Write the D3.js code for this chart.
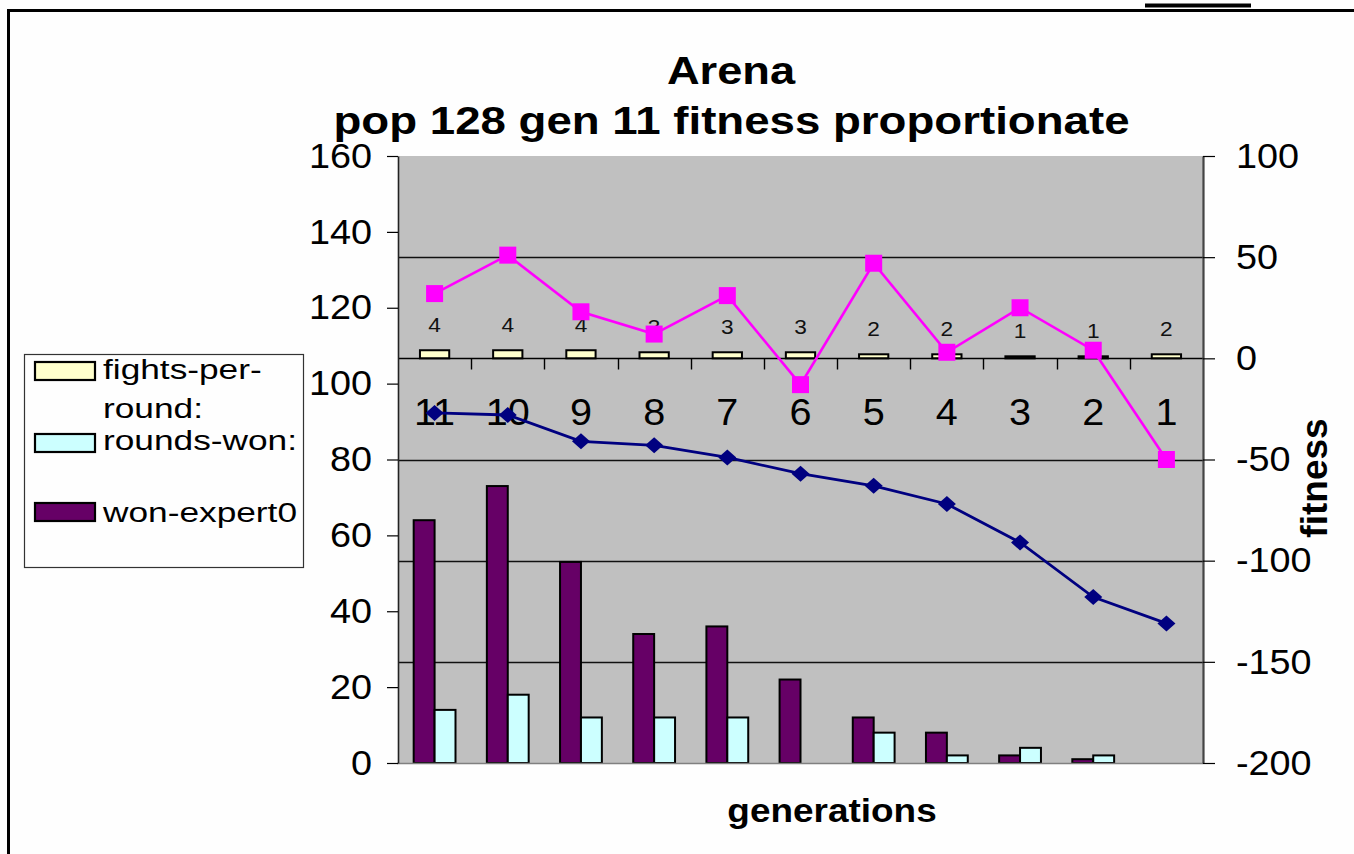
<!DOCTYPE html>
<html>
<head>
<meta charset="utf-8">
<script src="https://cdn.jsdelivr.net/npm/d3@7"></script>
<style>
  html, body { margin: 0; padding: 0; background: #fefefe; }
  svg { display: block; font-family: "Liberation Sans", Arial, sans-serif; }
</style>
</head>
<body>
<svg id="chart" width="1354" height="854"></svg>
<script>
// Generations, newest first
const categories = ["11", "10", "9", "8", "7", "6", "5", "4", "3", "2", "1"];

// Bar series on the left axis
const wonExpert0 = [64, 73, 53, 34, 36, 22, 12, 8, 2, 1, 0];
const roundsWon  = [14, 18, 12, 12, 12, 0, 8, 2, 4, 2, 0];

// Bar series on the fitness axis (with value labels)
const fightsPerRound = [4, 4, 4, 3, 3, 3, 2, 2, 1, 1, 2];

// Fitness lines
const fitnessMagenta = [32, 51, 23, 12, 31, -13, 47, 3, 25, 4, -50];
const fitnessBlue    = [-27, -28, -41, -43, -49, -57, -63, -72, -91, -118, -131];

// Axis ticks
const leftTicks  = [0, 20, 40, 60, 80, 100, 120, 140, 160];
const rightTicks = [-200, -150, -100, -50, 0, 50, 100];

const legendItems = [
  { lines: ["fights-per-", "round:"], fill: "#ffffcc" },
  { lines: ["rounds-won:"], fill: "#ccffff" },
  { lines: ["won-expert0"], fill: "#660066" }
];

const W = 1354, H = 854;
const svg = d3.select("#chart");
svg.append("rect").attr("width", W).attr("height", H).attr("fill", "#fefefe");

const plot = { left: 398, right: 1203, top: 156, bottom: 763 };

const x = d3.scaleBand().domain(categories).range([plot.left, plot.right]);
const yL = d3.scaleLinear().domain([0, 160]).range([plot.bottom, plot.top]);
const yR = d3.scaleLinear().domain([-200, 100]).range([plot.bottom, plot.top]);

// Text helper: horizontally widened Arial-like text
function label(parent, px, py, str, size, sx, opts = {}) {
  const g = parent.append("g").attr("transform", `translate(${px},${py}) scale(${sx},1)`);
  const t = g.append("text")
    .attr("font-size", size)
    .attr("text-anchor", opts.anchor || "start")
    .attr("font-weight", opts.bold ? "bold" : "normal")
    .attr("fill", opts.fill || "#000")
    .text(str);
  if (opts.dy) t.attr("dy", opts.dy);
  return g;
}
function stretchText(sel, s) {
  sel.each(function () {
    const t = d3.select(this);
    const xx = +t.attr("x") || 0, yy = +t.attr("y") || 0;
    t.attr("x", 0).attr("y", 0).attr("transform", `translate(${xx},${yy}) scale(${s},1)`);
  });
}
const plainNum = d => String(d);

// Plot area
svg.append("rect")
  .attr("x", plot.left).attr("y", plot.top)
  .attr("width", plot.right - plot.left).attr("height", plot.bottom - plot.top)
  .attr("fill", "#c0c0c0");

// Gridlines at the fitness axis major ticks
svg.append("g").selectAll("line")
  .data(rightTicks.filter(t => t > -200 && t < 100 && t !== 0))
  .join("line")
  .attr("x1", plot.left).attr("x2", plot.right)
  .attr("y1", d => Math.round(yR(d)) + 0.5).attr("y2", d => Math.round(yR(d)) + 0.5)
  .attr("stroke", "#111").attr("stroke-width", 1.4);

// Bars on the left axis
const groupW = x.bandwidth() / 3.5 * 2;
const barW = groupW / 2;
const bars = svg.append("g").attr("stroke", "#000").attr("stroke-width", 2);
bars.selectAll("rect.won")
  .data(categories.map((c, i) => ({ c, v: wonExpert0[i] })).filter(d => d.v > 0))
  .join("rect")
  .attr("x", d => x(d.c) + (x.bandwidth() - groupW) / 2)
  .attr("y", d => yL(d.v)).attr("width", barW).attr("height", d => yL(0) - yL(d.v))
  .attr("fill", "#660066");
bars.selectAll("rect.rounds")
  .data(categories.map((c, i) => ({ c, v: roundsWon[i] })).filter(d => d.v > 0))
  .join("rect")
  .attr("x", d => x(d.c) + (x.bandwidth() - groupW) / 2 + barW)
  .attr("y", d => yL(d.v)).attr("width", barW).attr("height", d => yL(0) - yL(d.v))
  .attr("fill", "#ccffff");

// Fights-per-round bars on the fitness axis
const fW = x.bandwidth() / 2.5;
bars.selectAll("rect.fights")
  .data(categories.map((c, i) => ({ c, v: fightsPerRound[i] })))
  .join("rect")
  .attr("x", d => x(d.c) + (x.bandwidth() - fW) / 2)
  .attr("y", d => yR(d.v)).attr("width", fW).attr("height", d => yR(0) - yR(d.v))
  .attr("fill", "#ffffcc");

// Value labels for fights-per-round
const valLabels = svg.append("g");
categories.forEach((c, i) => {
  label(valLabels, x(c) + x.bandwidth() / 2, yR(fightsPerRound[i]) - 18,
    String(fightsPerRound[i]), 21, 1.08, { anchor: "middle", fill: "#111" });
});

// Plot bottom edge
svg.append("line")
  .attr("x1", plot.left - 1).attr("x2", plot.right)
  .attr("y1", plot.bottom + 0.5).attr("y2", plot.bottom + 0.5)
  .attr("stroke", "#808080").attr("stroke-width", 1.5);

// Category axis crossing at fitness 0
const catY = Math.round(yR(0)) + 0.5;
const catAxis = svg.append("g");
catAxis.append("line")
  .attr("x1", plot.left).attr("x2", plot.right)
  .attr("y1", catY).attr("y2", catY)
  .attr("stroke", "#000").attr("stroke-width", 1.3);
catAxis.selectAll("line.tick")
  .data(categories.slice(1))
  .join("line")
  .attr("x1", d => Math.round(x(d)) + 0.5).attr("x2", d => Math.round(x(d)) + 0.5)
  .attr("y1", catY).attr("y2", catY + 11)
  .attr("stroke", "#000").attr("stroke-width", 1.4);

const catLabels = svg.append("g")
  .attr("transform", `translate(0,${catY})`)
  .call(d3.axisBottom(x).tickSize(0).tickPadding(40));
catLabels.select(".domain").remove();
catLabels.selectAll("text")
  .attr("font-size", 37).attr("font-family", "Liberation Sans, Arial, sans-serif").attr("fill", "#000");
stretchText(catLabels.selectAll("text"), 1.07);

// Left axis
const leftAxis = svg.append("g")
  .attr("transform", `translate(${plot.left},0)`)
  .call(d3.axisLeft(yL).tickValues(leftTicks).tickFormat(plainNum)
    .tickSize(11).tickSizeOuter(0).tickPadding(15));
leftAxis.select(".domain").attr("stroke", "#222").attr("stroke-width", 1.6);
leftAxis.selectAll(".tick line").attr("stroke", "#000").attr("stroke-width", 1.2);
leftAxis.selectAll("text")
  .attr("font-size", 35).attr("font-family", "Liberation Sans, Arial, sans-serif").attr("fill", "#000");
stretchText(leftAxis.selectAll("text"), 1.08);

// Right (fitness) axis
const rightAxis = svg.append("g")
  .attr("transform", `translate(${plot.right},0)`)
  .call(d3.axisRight(yR).tickValues(rightTicks).tickFormat(plainNum)
    .tickSize(12).tickSizeOuter(0).tickPadding(21));
rightAxis.select(".domain").attr("stroke", "#444").attr("stroke-width", 2.2);
rightAxis.selectAll(".tick line").attr("stroke", "#000").attr("stroke-width", 1.2);
rightAxis.selectAll("text")
  .attr("font-size", 35).attr("font-family", "Liberation Sans, Arial, sans-serif").attr("fill", "#000");
stretchText(rightAxis.selectAll("text"), 1.08);

// Fitness lines
const cx = c => x(c) + x.bandwidth() / 2;
const lineR = d3.line().x(d => cx(d.c)).y(d => yR(d.v));

const blueData = categories.map((c, i) => ({ c, v: fitnessBlue[i] }));
svg.append("path").datum(blueData)
  .attr("d", lineR).attr("fill", "none")
  .attr("stroke", "#000080").attr("stroke-width", 2.8);
svg.append("g").selectAll("path")
  .data(blueData).join("path")
  .attr("d", d => {
    const px = cx(d.c), py = yR(d.v);
    return `M${px - 9},${py}L${px},${py - 8}L${px + 9},${py}L${px},${py + 8}Z`;
  })
  .attr("fill", "#000080");

const magData = categories.map((c, i) => ({ c, v: fitnessMagenta[i] }));
svg.append("path").datum(magData)
  .attr("d", lineR).attr("fill", "none")
  .attr("stroke", "#ff00ff").attr("stroke-width", 2.6);
svg.append("g").selectAll("rect")
  .data(magData).join("rect")
  .attr("x", d => cx(d.c) - 8.5).attr("y", d => yR(d.v) - 8.5)
  .attr("width", 17).attr("height", 17)
  .attr("fill", "#ff00ff");

// Titles
const titles = svg.append("g");
label(titles, 731, 84, "Arena", 39, 1.16, { anchor: "middle", bold: true });
label(titles, 731.5, 134, "pop 128 gen 11 fitness proportionate", 39, 1.17, { anchor: "middle", bold: true });
label(titles, 832, 822, "generations", 33, 1.12, { anchor: "middle", bold: true });
svg.append("g").attr("transform", "translate(1327,478) rotate(-90)")
  .append("text").attr("font-size", 37).attr("font-weight", "bold")
  .attr("text-anchor", "middle").attr("fill", "#000").text("fitness");

// Legend
const legend = svg.append("g");
legend.append("rect")
  .attr("x", 24.5).attr("y", 354.5).attr("width", 279).attr("height", 213)
  .attr("fill", "#fefefe").attr("stroke", "#333").attr("stroke-width", 1.2);
const swatchY = [362, 434, 503];
const textBase = [[379, 418], [450], [522]];
legendItems.forEach((item, i) => {
  legend.append("rect")
    .attr("x", 35).attr("y", swatchY[i]).attr("width", 60).attr("height", 18)
    .attr("fill", item.fill).attr("stroke", "#000").attr("stroke-width", 2.2);
  item.lines.forEach((ln, j) => {
    label(legend, 103, textBase[i][j], ln, 28, 1.26);
  });
});

// Chart frame
svg.append("line").attr("x1", 8.5).attr("x2", 8.5).attr("y1", 9).attr("y2", H)
  .attr("stroke", "#000").attr("stroke-width", 3);
svg.append("line").attr("x1", 7).attr("x2", W).attr("y1", 10.5).attr("y2", 10.5)
  .attr("stroke", "#000").attr("stroke-width", 3);
svg.append("rect").attr("x", 1145).attr("y", 3.5).attr("width", 106).attr("height", 4)
  .attr("fill", "#000");
</script>
</body>
</html>
